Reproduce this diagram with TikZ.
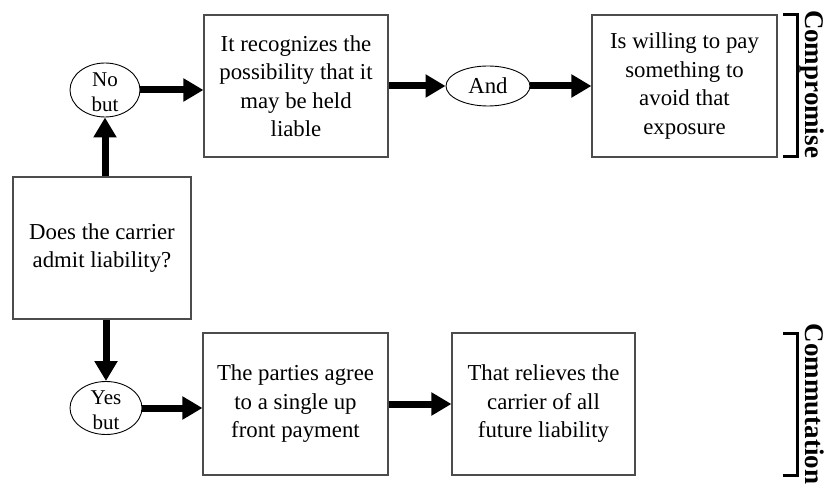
\documentclass[tikz,border=0pt]{standalone}
\usepackage{fontspec}
\setmainfont{Liberation Serif}
\usetikzlibrary{arrows.meta,shapes.geometric}
\begin{document}
\begin{tikzpicture}[x=1bp,y=-1bp,
  box/.style={draw=black!70, line width=1.1bp, minimum width=#1, minimum height=142bp, inner sep=0pt, align=center, font=\fontsize{22.8bp}{28.5bp}\selectfont},
  oval/.style={draw, ellipse, line width=0.9bp, inner sep=0pt},
  ovaltext/.style={align=center, inner sep=0pt, font=\fontsize{21bp}{25bp}\selectfont},
  arr/.style={line width=7bp, -{Triangle[length=20bp,width=22bp]}},
  brk/.style={line width=3bp},
  side/.style={rotate=-90, anchor=base, inner sep=0pt, font=\fontsize{27bp}{30bp}\selectfont\bfseries}
]
\useasboundingbox (0,0) rectangle (828,489);

% boxes
\node[box=178bp] (A) at (102,248) {Does the carrier\\admit liability?};
\node[box=184bp] (B) at (296,86) {It recognizes the\\possibility that it\\may be held\\liable};
\node[box=185bp] (C) at (684.5,86) {Is willing to pay\\something to\\avoid that\\exposure};
\node[box=185bp] (D) at (295.5,404) {The parties agree\\to a single up\\front payment};
\node[box=183bp] (E) at (543.5,404) {That relieves the\\carrier of all\\future liability};

% ellipses
\node[oval, minimum width=70bp, minimum height=54bp] (nb) at (105,90) {};
\node[ovaltext] (nbt) at (105,92) {No\\but};
\node[oval, minimum width=84bp, minimum height=40bp] (and) at (488,86) {};
\node[ovaltext, font=\fontsize{22.8bp}{28bp}\selectfont] (andt) at (488,86) {And};
\node[oval, minimum width=72bp, minimum height=53bp] (yb) at (106,408) {};
\node[ovaltext] (ybt) at (106,410) {Yes\\but};

% arrows
\draw[arr] (A.north -| nb.south) -- (nb.south);
\draw[arr] (nb.east) -- (nb.east -| B.west);
\draw[arr] (B.east) -- (and.west);
\draw[arr] (and.east) -- (C.west);
\draw[arr] (A.south -| yb.north) -- (yb.north);
\draw[arr] (yb.east) -- (yb.east -| D.west);
\draw[arr] (D.east) -- (E.west);

% brackets and side labels
\coordinate (c1) at (783,15);
\coordinate (c2) at (797,15);
\coordinate (c3) at (797,157);
\coordinate (c4) at (783,157);
\draw[brk] (c1) -- (c2) -- (c3) -- (c4);
\coordinate (d1) at (783,333);
\coordinate (d2) at (797,333);
\coordinate (d3) at (797,475);
\coordinate (d4) at (783,475);
\draw[brk] (d1) -- (d2) -- (d3) -- (d4);
\node[side] (comp) at (805,84) {Compromise};
\node[side] (comm) at (805,404) {Commutation};
\end{tikzpicture}
\end{document}
